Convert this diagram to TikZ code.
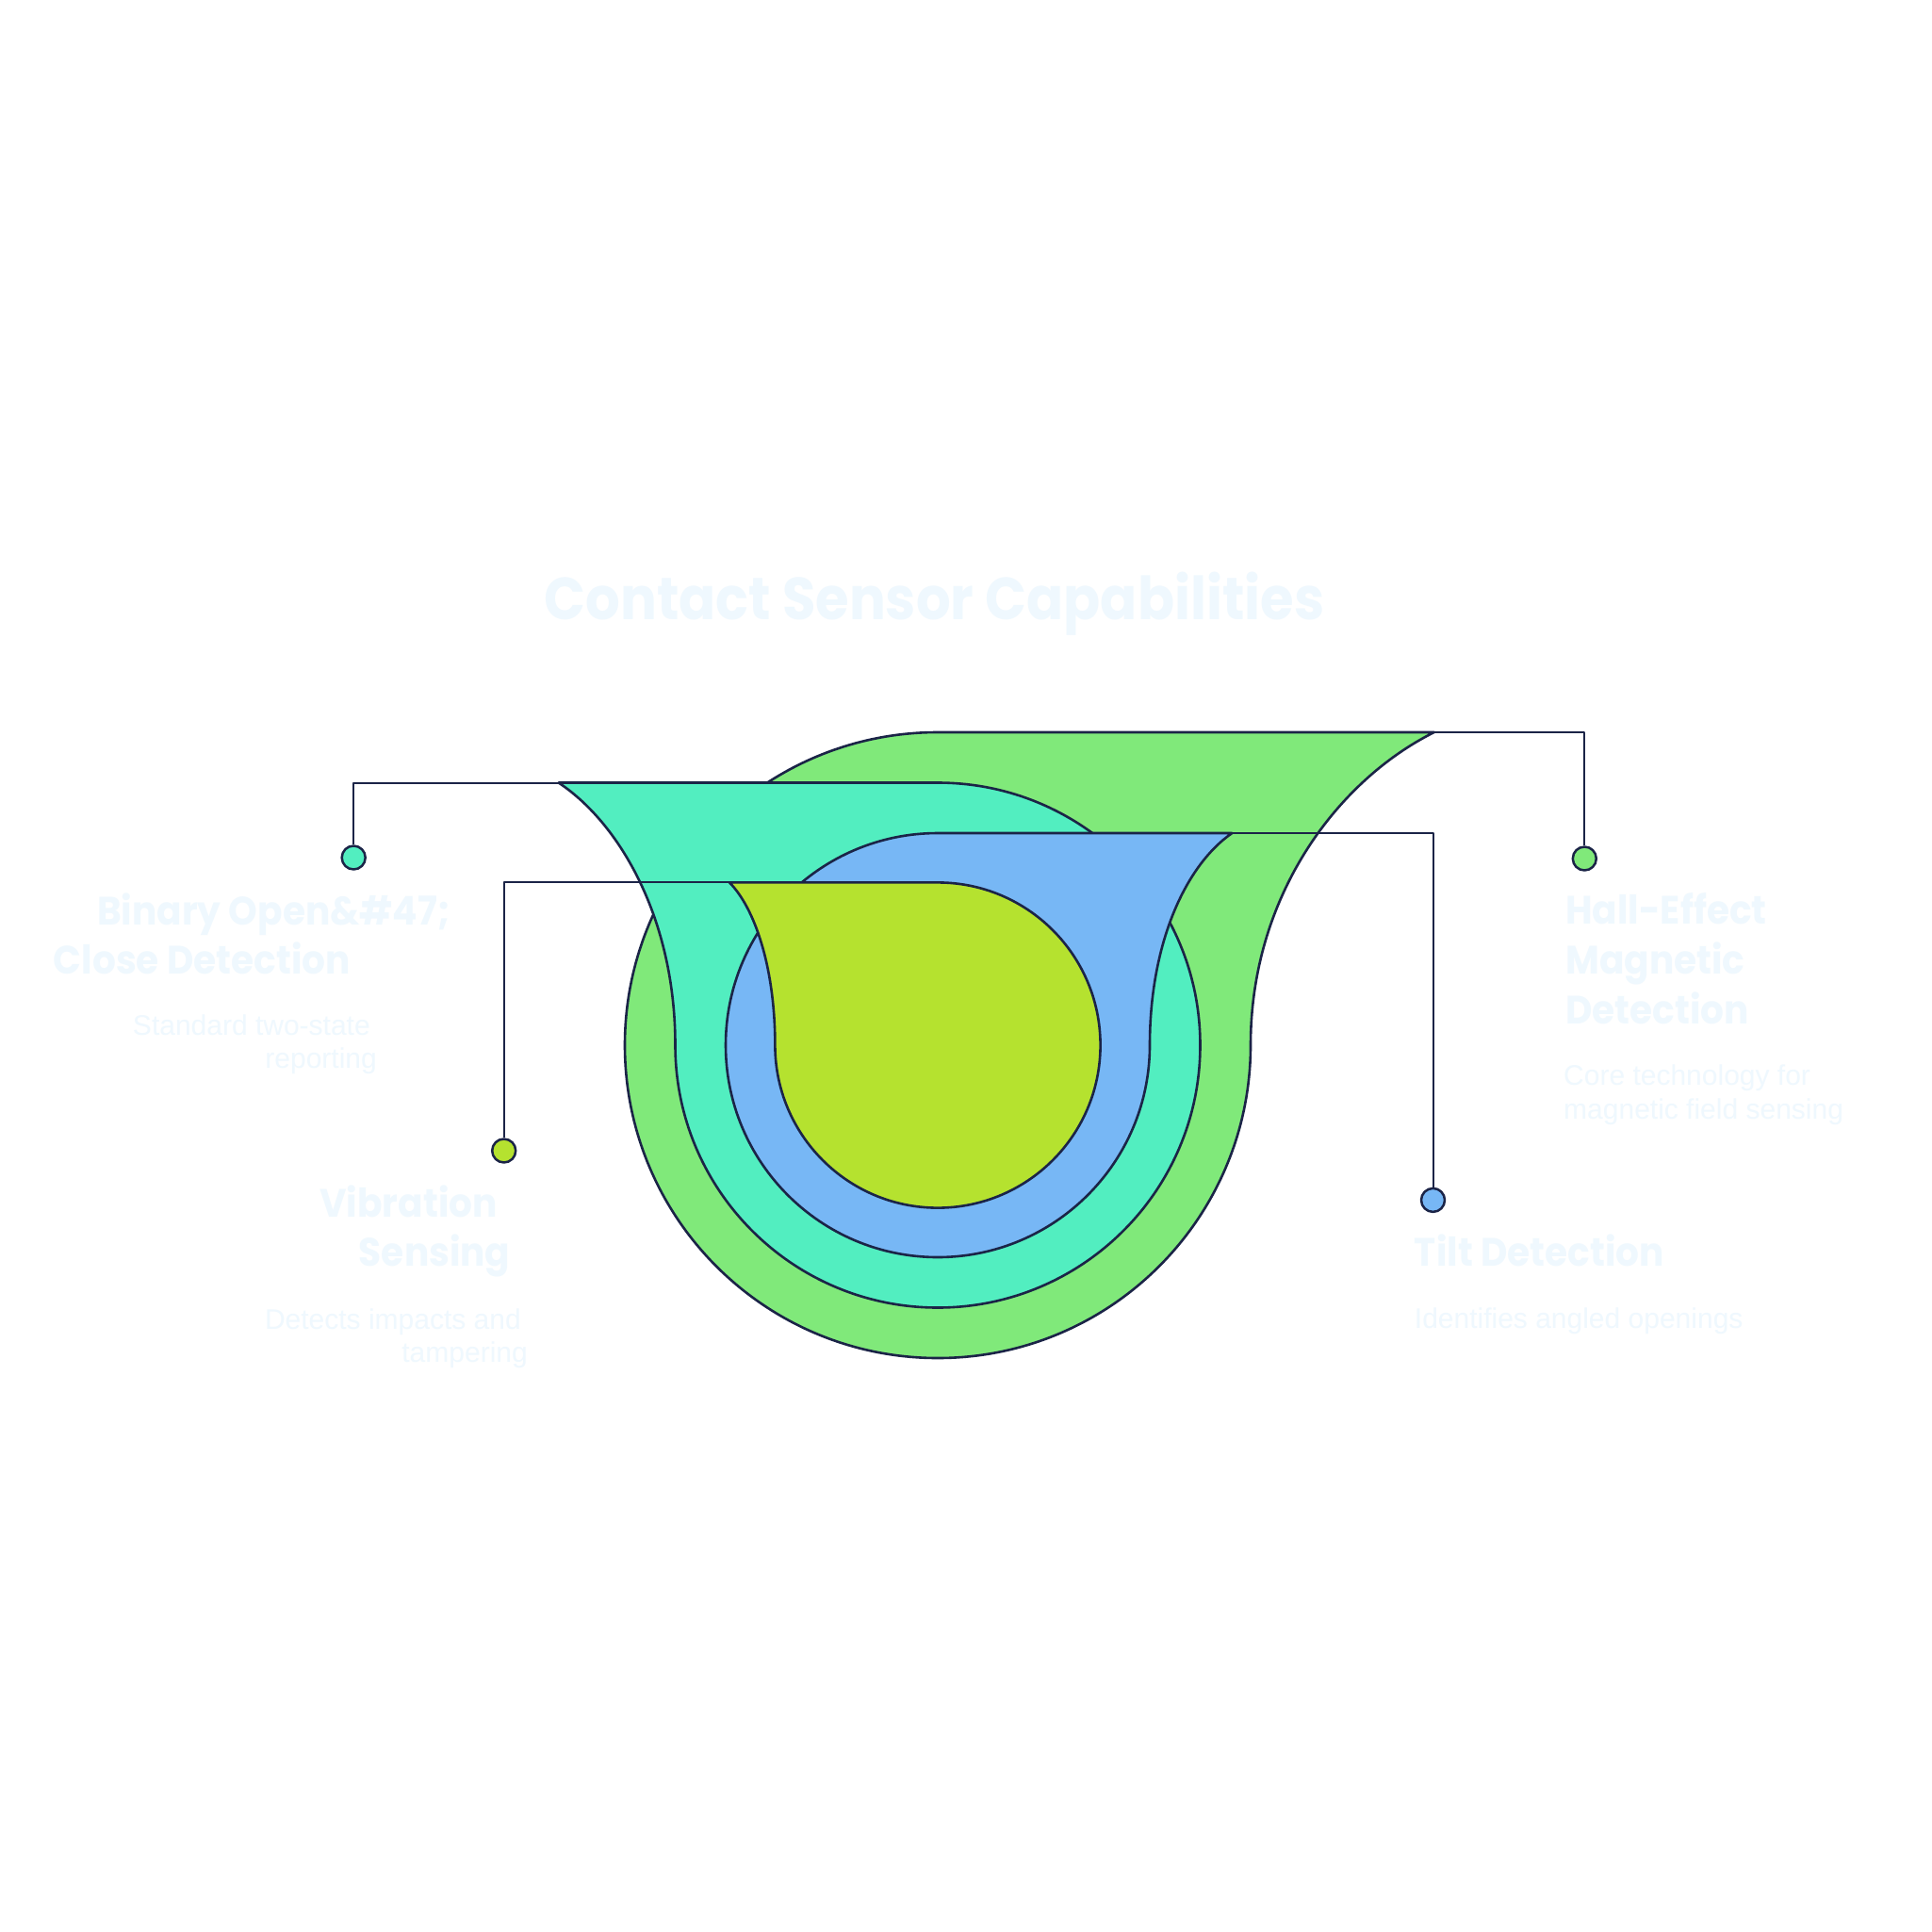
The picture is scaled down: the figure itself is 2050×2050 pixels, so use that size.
\documentclass[tikz,border=0pt]{standalone}
\usepackage{fontspec}
\newfontfamily\headfont{Poppins}[FakeStretch=0.93]
\newfontfamily\titlefont{Poppins}[FakeStretch=0.915]
\newfontfamily\bodyfont{Liberation Sans}
\definecolor{cgreen}{RGB}{128,233,122}
\definecolor{cteal}{RGB}{82,238,192}
\definecolor{cblue}{RGB}{119,183,245}
\definecolor{clime}{RGB}{181,226,47}
\definecolor{stroke}{RGB}{27,36,71}
\definecolor{txt}{RGB}{239,248,254}
\begin{document}
\begin{tikzpicture}[x=1pt,y=-1pt,line join=round,
  blob/.style={draw=stroke,line width=2.6pt},
  conn/.style={draw=stroke,line width=2pt},
  dot/.style={circle,draw=stroke,line width=2.5pt,minimum size=25pt,inner sep=0pt},
  head/.style={text=txt,inner sep=0pt,font=\headfont\bfseries\fontsize{42}{50}\selectfont},
  ttl/.style={text=txt,inner sep=0pt,font=\titlefont\bfseries\fontsize{63}{70}\selectfont},
  desc/.style={text=txt,inner sep=0pt,font=\bodyfont\fontsize{30}{35}\selectfont}]
\useasboundingbox (0,0) rectangle (2050,2050);
\fill[white] (0,0) rectangle (2050,2050);

% tips of the horns
\coordinate (tg) at (1521.7,777);
\coordinate (tt) at (592.7,830.5);
\coordinate (tb) at (1307.3,884);
\coordinate (tl) at (774,936.4);

% shapes, back to front
\path[blob,fill=cgreen] (663,1109) arc[start angle=180,end angle=270,radius=332]
  -- (tg) .. controls (1419.5,828) and (1327,950) .. (1327,1109)
  arc[start angle=0,end angle=180,radius=332] -- cycle;
\path[blob,fill=cteal] (995,830.5) arc[start angle=270,end angle=360,radius=278.5]
  arc[start angle=0,end angle=180,radius=278.5]
  .. controls (716.5,975.3) and (657.7,873.5) .. (tt) -- cycle;
\path[blob,fill=cblue] (770,1109) arc[start angle=180,end angle=270,radius=225]
  -- (tb) .. controls (1258,918) and (1220,1001) .. (1220,1109)
  arc[start angle=0,end angle=180,radius=225] -- cycle;
\path[blob,fill=clime] (995,936.4) arc[start angle=270,end angle=360,radius=172.6]
  arc[start angle=0,end angle=180,radius=172.6]
  .. controls (822.4,1026.2) and (800.6,963) .. (tl) -- cycle;

% dots
\node[dot,fill=cgreen] (dg) at (1681.3,911) {};
\node[dot,fill=cteal] (dt) at (375.2,910) {};
\node[dot,fill=cblue] (db) at (1520.5,1273.4) {};
\node[dot,fill=clime] (dl) at (534.7,1221) {};

% connectors
\draw[conn] (tg) -| (dg.north);
\draw[conn] (tt) -| (dt.north);
\draw[conn] (tb) -| (db.north);
\draw[conn] (tl) -| (dl.north);

% title
\node[ttl,anchor=base] (title) at (991.5,657) {Contact Sensor Capabilities};

% Binary
\node[head,anchor=base east] (b1) at (478,981) {Binary Open\&\#47;};
\node[head,anchor=base east] (b2) at (372,1033) {Close Detection};
\node[desc,anchor=base east] (b3) at (393,1098) {Standard two-state};
\node[desc,anchor=base east] (b4) at (400,1133) {reporting};

% Vibration
\node[head,anchor=base east] (v1) at (528,1291.7) {Vibration};
\node[head,anchor=base east] (v2) at (541.7,1343) {Sensing};
\node[desc,anchor=base east] (v3) at (553,1410) {Detects impacts and};
\node[desc,anchor=base east] (v4) at (560,1445) {tampering};

% Hall-Effect
\node[head,anchor=base west] (h1) at (1661,980.7) {Hall-Effect};
\node[head,anchor=base west] (h2) at (1661,1033) {Magnetic};
\node[head,anchor=base west] (h3) at (1661,1086.7) {Detection};
\node[desc,anchor=base west] (h4) at (1659,1151.7) {Core technology for};
\node[desc,anchor=base west] (h5) at (1659,1187) {magnetic field sensing};

% Tilt
\node[head,anchor=base west] (t1) at (1500.7,1343) {Tilt Detection};
\node[desc,anchor=base west] (t2) at (1500.7,1409) {Identifies angled openings};
\end{tikzpicture}
\end{document}
